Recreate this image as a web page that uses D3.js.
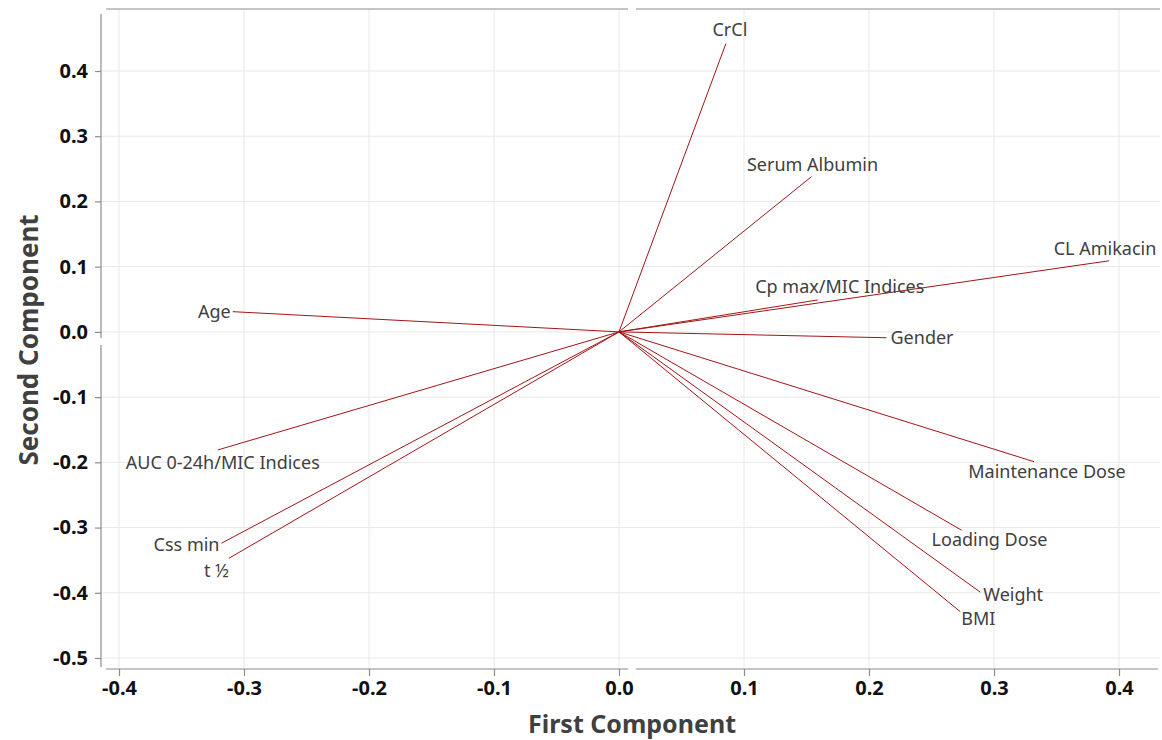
<!DOCTYPE html>
<html>
<head>
<meta charset="utf-8">
<script src="https://cdn.jsdelivr.net/npm/d3@7"></script>
<style>
  body { margin: 0; background: #fff; }
  text { font-family: "Noto Sans", "Open Sans", sans-serif; }
</style>
</head>
<body>
<div id="graphic"></div>
<script>
// loading values
var variables = ["CrCl", "Serum Albumin", "CL Amikacin", "Cp max/MIC Indices", "Gender",
                 "Maintenance Dose", "Loading Dose", "Weight", "BMI", "Age",
                 "AUC 0-24h/MIC Indices", "Css min", "t \u00BD"];
var firstComp  = [0.0855, 0.154, 0.392, 0.159, 0.214, 0.332, 0.274, 0.289, 0.273, -0.309, -0.321, -0.318, -0.312];
var secondComp = [0.442, 0.238, 0.109, 0.049, -0.009, -0.199, -0.304, -0.399, -0.429, 0.031, -0.181, -0.324, -0.347];
var xTicks = [-0.4, -0.3, -0.2, -0.1, 0.0, 0.1, 0.2, 0.3, 0.4];
var yTicks = [-0.5, -0.4, -0.3, -0.2, -0.1, 0.0, 0.1, 0.2, 0.3, 0.4];

// label placement: anchor + nudge in pixels
var labelPlace = {
  "CrCl":                  ["middle", 4, -8],
  "Serum Albumin":         ["middle", 1, -6],
  "CL Amikacin":           ["middle", -4, -6],
  "Cp max/MIC Indices":    ["middle", 22, -7],
  "Gender":                ["start", 4, 6],
  "Maintenance Dose":      ["middle", 13, 16],
  "Loading Dose":          ["middle", 28, 16],
  "Weight":                ["start", 3, 9],
  "BMI":                   ["start", 1, 13],
  "Age":                   ["end", -2, 6],
  "AUC 0-24h/MIC Indices": ["middle", 5, 19],
  "Css min":               ["end", -2, 8],
  "t \u00BD":              ["end", 0, 19]
};

var W = 1162, H = 740;
var svg = d3.select("#graphic").append("svg")
        .attr("width", W)
        .attr("height", H);

var x = d3.scaleLinear().domain([-0.4, 0.4]).range([119, 1119]);
var y = d3.scaleLinear().domain([-0.5, 0.4]).range([658, 71]);

var plotLeft = 101, plotRight = 1160, plotTop = 9, plotBottom = 669;

// grid
var grid = svg.append("g");
grid.selectAll(".gx").data(xTicks).enter().append("line")
    .attr("x1", d => x(d)).attr("x2", d => x(d))
    .attr("y1", plotTop).attr("y2", plotBottom)
    .style("stroke", "#e8e8e8").style("stroke-width", 1);
grid.selectAll(".gy").data(yTicks).enter().append("line")
    .attr("x1", plotLeft).attr("x2", plotRight)
    .attr("y1", d => y(d)).attr("y2", d => y(d))
    .style("stroke", "#e8e8e8").style("stroke-width", 1);

// frame pieces (with the small gaps near zero)
var frame = svg.append("g").style("stroke", "#8c8c8c").style("stroke-width", 1.2);
frame.append("line").attr("x1", plotLeft).attr("x2", plotLeft).attr("y1", 14).attr("y2", y(0) + 6);
frame.append("line").attr("x1", plotLeft).attr("x2", plotLeft).attr("y1", y(0) + 13).attr("y2", 667);
frame.append("line").attr("x1", 106).attr("x2", x(0) + 9).attr("y1", plotTop).attr("y2", plotTop);
frame.append("line").attr("x1", x(0) + 17).attr("x2", plotRight).attr("y1", plotTop).attr("y2", plotTop);
frame.append("line").attr("x1", 106).attr("x2", x(0) + 9).attr("y1", plotBottom).attr("y2", plotBottom);
frame.append("line").attr("x1", x(0) + 17).attr("x2", 1158).attr("y1", plotBottom).attr("y2", plotBottom);

// axes
var xAxis = svg.append("g")
    .attr("transform", "translate(0," + plotBottom + ")")
    .call(d3.axisBottom(x).tickValues(xTicks).tickSize(7).tickPadding(5));
var yAxis = svg.append("g")
    .attr("transform", "translate(" + plotLeft + ",0)")
    .call(d3.axisLeft(y).tickValues(yTicks).tickSize(6).tickPadding(7));
[xAxis, yAxis].forEach(function (a) {
  a.select(".domain").remove();
  a.selectAll(".tick line").style("stroke", "#8c8c8c").style("stroke-width", 1.2);
  a.selectAll(".tick text")
    .style("font-family", "'Noto Sans', sans-serif")
    .style("font-size", "20px")
    .style("font-weight", "700")
    .style("fill", "#111")
    .text(d => d3.format(".1f")(d).replace("\u2212", "-"));
});

// axis titles
svg.append("text")
    .attr("x", 632).attr("y", 733)
    .attr("text-anchor", "middle")
    .style("font-size", "25px").style("font-weight", "700").style("fill", "#404040")
    .text("First Component");
svg.append("text")
    .attr("transform", "translate(38,340) rotate(-90)")
    .attr("text-anchor", "middle")
    .style("font-size", "26px").style("font-weight", "700").style("fill", "#404040")
    .text("Second Component");

// loading vectors
var rows = variables.map((v, i) => ({ name: v, pc1: firstComp[i], pc2: secondComp[i] }));

svg.append("g").selectAll("line").data(rows).enter().append("line")
    .attr("x1", x(0)).attr("y1", y(0))
    .attr("x2", d => x(d.pc1)).attr("y2", d => y(d.pc2))
    .style("stroke", "#a31515").style("stroke-width", 1);

svg.append("g").selectAll("text").data(rows).enter().append("text")
    .attr("x", d => x(d.pc1) + labelPlace[d.name][1])
    .attr("y", d => y(d.pc2) + labelPlace[d.name][2])
    .attr("text-anchor", d => labelPlace[d.name][0])
    .style("font-size", "18px").style("fill", "#404040")
    .text(d => d.name);
</script>
</body>
</html>
